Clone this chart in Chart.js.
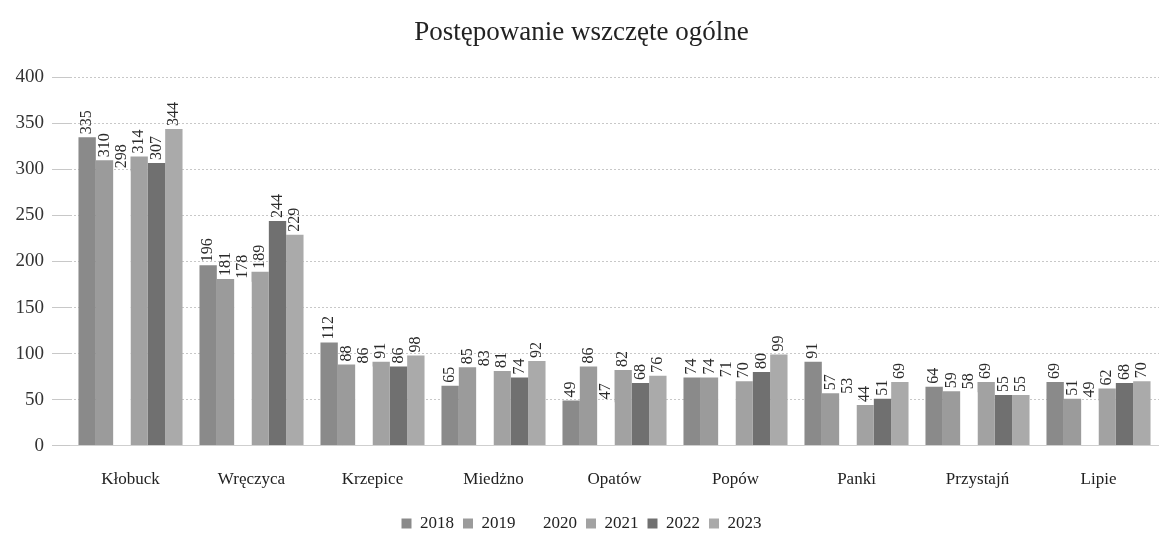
<!DOCTYPE html>
<html>
<head>
<meta charset="utf-8">
<script src="https://cdn.jsdelivr.net/npm/chart.js@4.4.3/dist/chart.umd.min.js"></script>
<style>
  html, body { margin: 0; padding: 0; background: #fff; }
  #wrap { width: 1159px; height: 545px; position: relative; }
</style>
</head>
<body>
<div id="wrap"><canvas id="chart"></canvas></div>
<script>
const categories = ["Kłobuck", "Wręczyca", "Krzepice", "Miedżno", "Opatów", "Popów", "Panki", "Przystajń", "Lipie"];
const years = ["2018", "2019", "2020", "2021", "2022", "2023"];
const values2018 = [335, 196, 112, 65, 49, 74, 91, 64, 69];
const values2019 = [310, 181, 88, 85, 86, 74, 57, 59, 51];
const values2020 = [298, 178, 86, 83, 47, 71, 53, 58, 49];
const values2021 = [314, 189, 91, 81, 82, 70, 44, 69, 62];
const values2022 = [307, 244, 86, 74, 68, 80, 51, 55, 68];
const values2023 = [344, 229, 98, 92, 76, 99, 69, 55, 70];
const yTicks = [0, 50, 100, 150, 200, 250, 300, 350, 400];

const seriesValues = [values2018, values2019, values2020, values2021, values2022, values2023];
const seriesColors = ["#8a8a8a", "#9b9b9b", "#ffffff", "#a2a2a2", "#707070", "#aaaaaa"];
const serif = "'Liberation Serif', 'DejaVu Serif', serif";

// value labels written vertically above each bar
const barValueLabels = {
  id: "barValueLabels",
  afterDatasetsDraw(chart) {
    const { ctx } = chart;
    ctx.save();
    ctx.font = `16px ${serif}`;
    ctx.fillStyle = "#2a2a2a";
    ctx.textAlign = "left";
    ctx.textBaseline = "middle";
    chart.data.datasets.forEach((dataset, di) => {
      const meta = chart.getDatasetMeta(di);
      meta.data.forEach((bar, i) => {
        ctx.save();
        ctx.translate(bar.x, bar.y - 3);
        ctx.rotate(-Math.PI / 2);
        ctx.fillText(String(dataset.data[i]), 0, 0);
        ctx.restore();
      });
    });
    ctx.restore();
  },
};

new Chart(document.getElementById("chart"), {
  type: "bar",
  data: {
    labels: categories,
    datasets: years.map((year, i) => ({
      label: year,
      data: seriesValues[i],
      backgroundColor: seriesColors[i],
      borderColor: seriesColors[i],
      borderWidth: 0,
      categoryPercentage: 0.86,
      barPercentage: 1.0,
    })),
  },
  options: {
    responsive: true,
    maintainAspectRatio: false,
    animation: false,
    layout: { padding: { left: 4, right: 0, top: 0, bottom: 3 } },
    scales: {
      x: {
        grid: { display: false },
        border: { color: "#cfcfcf", dash: [2, 2] },
        ticks: { color: "#222", font: { family: serif, size: 17 }, padding: 16 },
      },
      y: {
        min: 0,
        max: 400,
        afterBuildTicks(axis) {
          axis.ticks = yTicks.map((value) => ({ value }));
        },
        afterFit(axis) {
          axis.width = 66;
        },
        grid: { color: "#c8c8c8", tickLength: 18, lineWidth: 1 },
        border: { display: false, dash: [2, 2] },
        ticks: { color: "#333", font: { family: serif, size: 19 }, padding: 8 },
      },
    },
    plugins: {
      title: {
        display: true,
        text: "Postępowanie wszczęte ogólne",
        color: "#222",
        font: { family: serif, size: 27, weight: "normal" },
        padding: { top: 17, bottom: 28 },
      },
      legend: {
        position: "bottom",
        labels: {
          color: "#222",
          font: { family: serif, size: 17 },
          boxWidth: 10,
          boxHeight: 10,
          padding: 9,
        },
      },
      tooltip: { enabled: false },
    },
  },
  plugins: [barValueLabels],
});
</script>
</body>
</html>
